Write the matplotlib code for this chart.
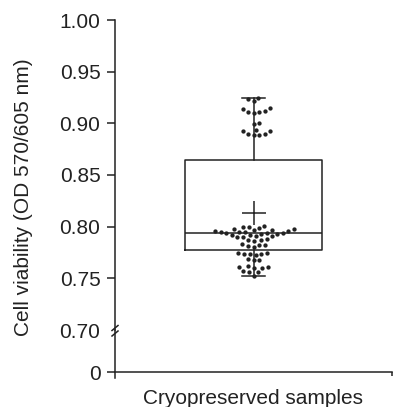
"""Box plot with swarm of cell viability values (broken y axis)."""
import numpy as np
import matplotlib
matplotlib.use('Agg')
import matplotlib.pyplot as plt
import seaborn as sns

# ---- data ----
category = 'Cryopreserved samples'

upper_points = [0.925, 0.924, 0.922, 0.915, 0.914, 0.912, 0.911, 0.911, 0.910,
                0.900, 0.899, 0.894, 0.893, 0.893, 0.890, 0.890, 0.889, 0.889]
lower_points = [0.801, 0.800, 0.800, 0.799, 0.798, 0.798, 0.797, 0.797,
                0.796, 0.796, 0.795, 0.795, 0.795, 0.794, 0.794, 0.794,
                0.793, 0.793,
                0.792, 0.792, 0.791, 0.791, 0.790, 0.790,
                0.788, 0.787, 0.787, 0.786,
                0.783, 0.782, 0.782, 0.781, 0.780,
                0.775, 0.775, 0.774, 0.774, 0.774, 0.773,
                0.769, 0.768, 0.768,
                0.762, 0.761, 0.761, 0.760, 0.760,
                0.757, 0.756, 0.756,
                0.7525]

box_q1 = 0.7776
box_median = 0.7937
box_q3 = 0.8646
box_mean = 0.8137
whisker_low = 0.7527
whisker_high = 0.9249

y_ticks = [0.70, 0.75, 0.80, 0.85, 0.90, 0.95, 1.00]

# ---- figure ----
plt.rcParams['font.family'] = ['Liberation Sans', 'DejaVu Sans']
W, H = 393, 407
fig = plt.figure(figsize=(W / 100, H / 100), dpi=100)

ink = '#222222'
lw = 1.1
fs = 15

# pixel layout
x0, x1 = 115, 392
y_top, y_brk, y_bot = 20, 330, 378

ax = fig.add_axes([x0 / W, (H - y_brk) / H, (x1 - x0) / W, (y_brk - y_top) / H])
axb = fig.add_axes([x0 / W, (H - y_bot) / H, (x1 - x0) / W, (y_bot - y_brk) / H])

stats = [dict(med=box_median, q1=box_q1, q3=box_q3, mean=box_mean,
              whislo=whisker_low, whishi=whisker_high, fliers=[], label='')]
line_props = dict(color=ink, linewidth=lw)
ax.bxp(stats, positions=[0], widths=0.495, capwidths=0.083, showmeans=True,
       boxprops=line_props, whiskerprops=line_props, capprops=line_props,
       medianprops=line_props,
       meanprops=dict(marker='+', markersize=17, markeredgecolor=ink, markeredgewidth=1.1),
       manage_ticks=False, zorder=2)

pts = np.array(upper_points + lower_points)
# invisible edge widens the swarm spacing a little without enlarging the dots
sns.swarmplot(y=pts, ax=ax, color=ink, size=3.1, linewidth=0.9,
              edgecolor=(0, 0, 0, 0), zorder=3)

ax.set_xlim(-0.5, 0.5)
ax.set_ylim(0.70, 1.00)
ax.set_yticks(y_ticks)
ax.set_yticklabels([f'{t:.2f}' for t in y_ticks])
ax.set_xticks([])
ax.set_xlabel('')
ax.set_ylabel('')
for s in ('top', 'right', 'bottom'):
    ax.spines[s].set_visible(False)
ax.spines['left'].set_linewidth(lw)
ax.spines['left'].set_color(ink)
ax.tick_params(axis='y', direction='out', length=5.5, width=lw, color=ink,
               labelsize=fs, labelcolor=ink, pad=5)
# the 0.70 position carries the break mark instead of a tick
ax.yaxis.get_major_ticks()[0].tick1line.set_visible(False)

# break marks on the y axis
sx, sy = 1 / (x1 - x0), 1 / (y_brk - y_top)
for dy in (2.0, -3.5):
    ax.plot([-3 * sx, 3 * sx], [(dy - 2.5) * sy, (dy + 2.5) * sy],
            transform=ax.transAxes, color=ink, lw=lw, clip_on=False)

# lower panel holding the zero
axb.set_xlim(-0.5, 0.5)
axb.set_ylim(-1, 7)
axb.set_yticks([0])
axb.set_yticklabels(['0'])
axb.set_xticks([0.5])
axb.set_xticklabels([''])
axb.spines['top'].set_visible(False)
axb.spines['right'].set_visible(False)
axb.spines['bottom'].set_position(('data', 0))
for s in ('left', 'bottom'):
    axb.spines[s].set_linewidth(lw)
    axb.spines[s].set_color(ink)
axb.tick_params(axis='y', direction='out', length=5.5, width=lw, color=ink,
                labelsize=fs, labelcolor=ink, pad=5)
axb.tick_params(axis='x', direction='out', length=3, width=lw, color=ink)
axb.patch.set_visible(False)

# axis titles centred on the whole (broken) axis
fig.text(24 / W, (H - 197) / H, 'Cell viability (OD 570/605 nm)', rotation=90,
         ha='center', va='center', fontsize=fs, color=ink)
fig.text(253 / W, (H - 404) / H, category, ha='center', va='baseline',
         fontsize=fs, color=ink)

fig.savefig('out.png', dpi=100)
